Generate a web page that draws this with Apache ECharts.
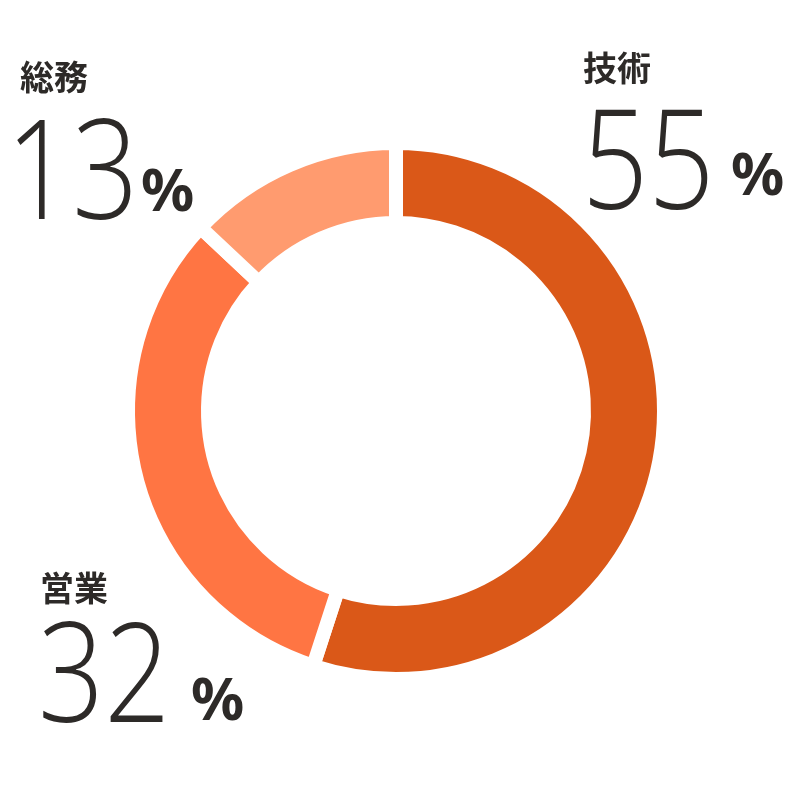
<!DOCTYPE html>
<html>
<head>
<meta charset="utf-8">
<script src="https://cdn.jsdelivr.net/npm/echarts@6/dist/echarts.min.js"></script>
<style>
html,body{margin:0;padding:0;background:#fff;}
#chart{width:800px;height:800px;}
</style>
</head>
<body>
<div id="chart"></div>
<script>
// Data
const categories = ['技術', '営業', '総務'];
const values = [55, 32, 13];
const unit = '%';

// Styling / layout (not data)
const sliceColors = ['#DA5818', '#FF7543', '#FF9B6F'];
const textColor = '#2d2a28';
const labelLayout = [
  { nameX: 583, nameY: 68,  numX: 582, numY: 170, pctX: 731, pctY: 178 },
  { nameX: 40,  nameY: 588, numX: 38,  numY: 683, pctX: 191, pctY: 703 },
  { nameX: 20,  nameY: 77,  numX: 6,   numY: 180, pctX: 141, pctY: 194 }
];

const chart = echarts.init(document.getElementById('chart'), null, { renderer: 'canvas' });

const graphics = [];
categories.forEach((name, i) => {
  const L = labelLayout[i];
  graphics.push({
    type: 'text', x: L.nameX, y: L.nameY, silent: true,
    style: { text: name, fill: textColor, fontSize: 34, fontWeight: 'bold',
      fontFamily: '"Noto Sans CJK JP", sans-serif', verticalAlign: 'middle', align: 'left' }
  });
  graphics.push({
    type: 'text', x: L.numX, y: L.numY, scaleX: 0.84, silent: true,
    style: { text: String(values[i]), fill: textColor, fontSize: 138, fontWeight: 300,
      fontFamily: '"Open Sans", sans-serif', verticalAlign: 'middle', align: 'left' }
  });
  graphics.push({
    type: 'text', x: L.pctX, y: L.pctY, silent: true,
    style: { text: unit, fill: textColor, fontSize: 59, fontWeight: 'bold',
      fontFamily: '"Noto Sans", sans-serif', verticalAlign: 'middle', align: 'left' }
  });
});

chart.setOption({
  animation: false,
  backgroundColor: '#ffffff',
  series: [{
    type: 'pie',
    radius: [188, 268],
    center: [396, 411],
    startAngle: 90,
    clockwise: true,
    label: { show: false },
    labelLine: { show: false },
    emphasis: { disabled: true },
    itemStyle: { borderColor: '#ffffff', borderWidth: 14 },
    data: categories.map((name, i) => ({
      name, value: values[i], itemStyle: { color: sliceColors[i] }
    }))
  }],
  graphic: graphics
});
</script>
</body>
</html>
